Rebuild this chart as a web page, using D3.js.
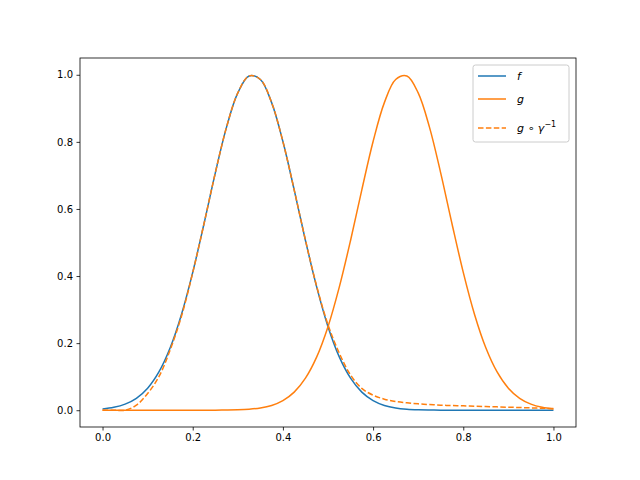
<!DOCTYPE html>
<html><head><meta charset="utf-8">
<script src="https://cdn.jsdelivr.net/npm/d3@7"></script>
<style>body{margin:0;background:#fff}</style></head>
<body><svg id="c" width="640" height="480"></svg>
<script>
const xs = d3.range(41).map(i => i / 40);
const fVals = [.0039,.0086,.0181,.0355,.0657,.1142,.1863,.2856,.4111,.556,.707,.844,.946,.9965,.986,.917,.801,.657,.506,.367,.249,.159,.0956,.0539,.0286,.0142,.0066,.0029,.0012,.0005,.0002,.0001,0,0,0,0,0,0,0,0,0];
const gVals = [0,0,0,0,0,0,0,0,0,.0001,.0002,.0005,.0012,.0029,.0066,.0142,.0286,.0539,.0956,.159,.249,.367,.506,.657,.801,.917,.986,.9965,.946,.844,.707,.556,.4111,.2856,.1863,.1142,.0657,.0355,.0181,.0086,.0039];
const hVals = [0,0,0,.015,.05,.10,.18,.28,.41,.556,.707,.844,.946,.9965,.986,.917,.801,.657,.507,.369,.255,.17,.105,.065,.045,.033,.026,.022,.019,.017,.015,.014,.013,.012,.011,.010,.009,.008,.007,.006,.005];
const xTicks = [0, 0.2, 0.4, 0.6, 0.8, 1.0];
const yTicks = [0, 0.2, 0.4, 0.6, 0.8, 1.0];

const svg = d3.select("#c");
const L = 80, R = 576, T = 58, B = 427;
const x = d3.scaleLinear().domain([-0.05, 1.05]).range([L, R]);
const y = d3.scaleLinear().domain([-0.05, 1.05]).range([B, T]);
const font = "DejaVu Sans";

const gx = svg.append("g").attr("transform", `translate(0,${B})`)
  .call(d3.axisBottom(x).tickValues(xTicks).tickFormat(d3.format(".1f")).tickSize(3.5).tickPadding(3.5));
const gy = svg.append("g").attr("transform", `translate(${L},0)`)
  .call(d3.axisLeft(y).tickValues(yTicks).tickFormat(d3.format(".1f")).tickSize(3.5).tickPadding(3.5));
[gx, gy].forEach(g => { g.select(".domain").remove(); g.selectAll("text").attr("font-family", font).attr("font-size", 10).attr("fill", "#000"); g.selectAll("line").attr("stroke", "#000").attr("stroke-width", 0.8); });
svg.append("rect").attr("x", L).attr("y", T).attr("width", R - L).attr("height", B - T).attr("fill", "none").attr("stroke", "#000").attr("stroke-width", 0.8);

const line = vals => d3.line().x((d, i) => x(xs[i])).y(d => y(d)).curve(d3.curveCatmullRom)(vals);
svg.append("path").attr("d", line(fVals)).attr("fill", "none").attr("stroke", "#1f77b4").attr("stroke-width", 1.5);
svg.append("path").attr("d", line(gVals)).attr("fill", "none").attr("stroke", "#ff7f0e").attr("stroke-width", 1.5);
svg.append("path").attr("d", line(hVals)).attr("fill", "none").attr("stroke", "#ff7f0e").attr("stroke-width", 1.5).attr("stroke-dasharray", "5.5,2.4");

const lg = svg.append("g");
lg.append("rect").attr("x", 473).attr("y", 65).attr("width", 96).attr("height", 77).attr("rx", 2.5)
  .attr("fill", "#fff").attr("fill-opacity", 0.8).attr("stroke", "#ccc");
const items = [
  {c: "#1f77b4", d: null, y: 76, t: "f"},
  {c: "#ff7f0e", d: null, y: 99, t: "g"},
  {c: "#ff7f0e", d: "5.5,2.4", y: 128, t: "g ∘ γ"}
];
items.forEach(it => {
  lg.append("line").attr("x1", 478).attr("x2", 506).attr("y1", it.y).attr("y2", it.y)
    .attr("stroke", it.c).attr("stroke-width", 1.5).attr("stroke-dasharray", it.d);
  const t = lg.append("text").attr("x", 517).attr("y", it.y + 4).attr("font-family", font).attr("font-size", 11).attr("font-style", "italic").text(it.t);
  if (it.t.length > 1) t.append("tspan").attr("dy", -5).attr("font-size", 8).attr("font-style", "normal").text("−1");
});
</script></body></html>
